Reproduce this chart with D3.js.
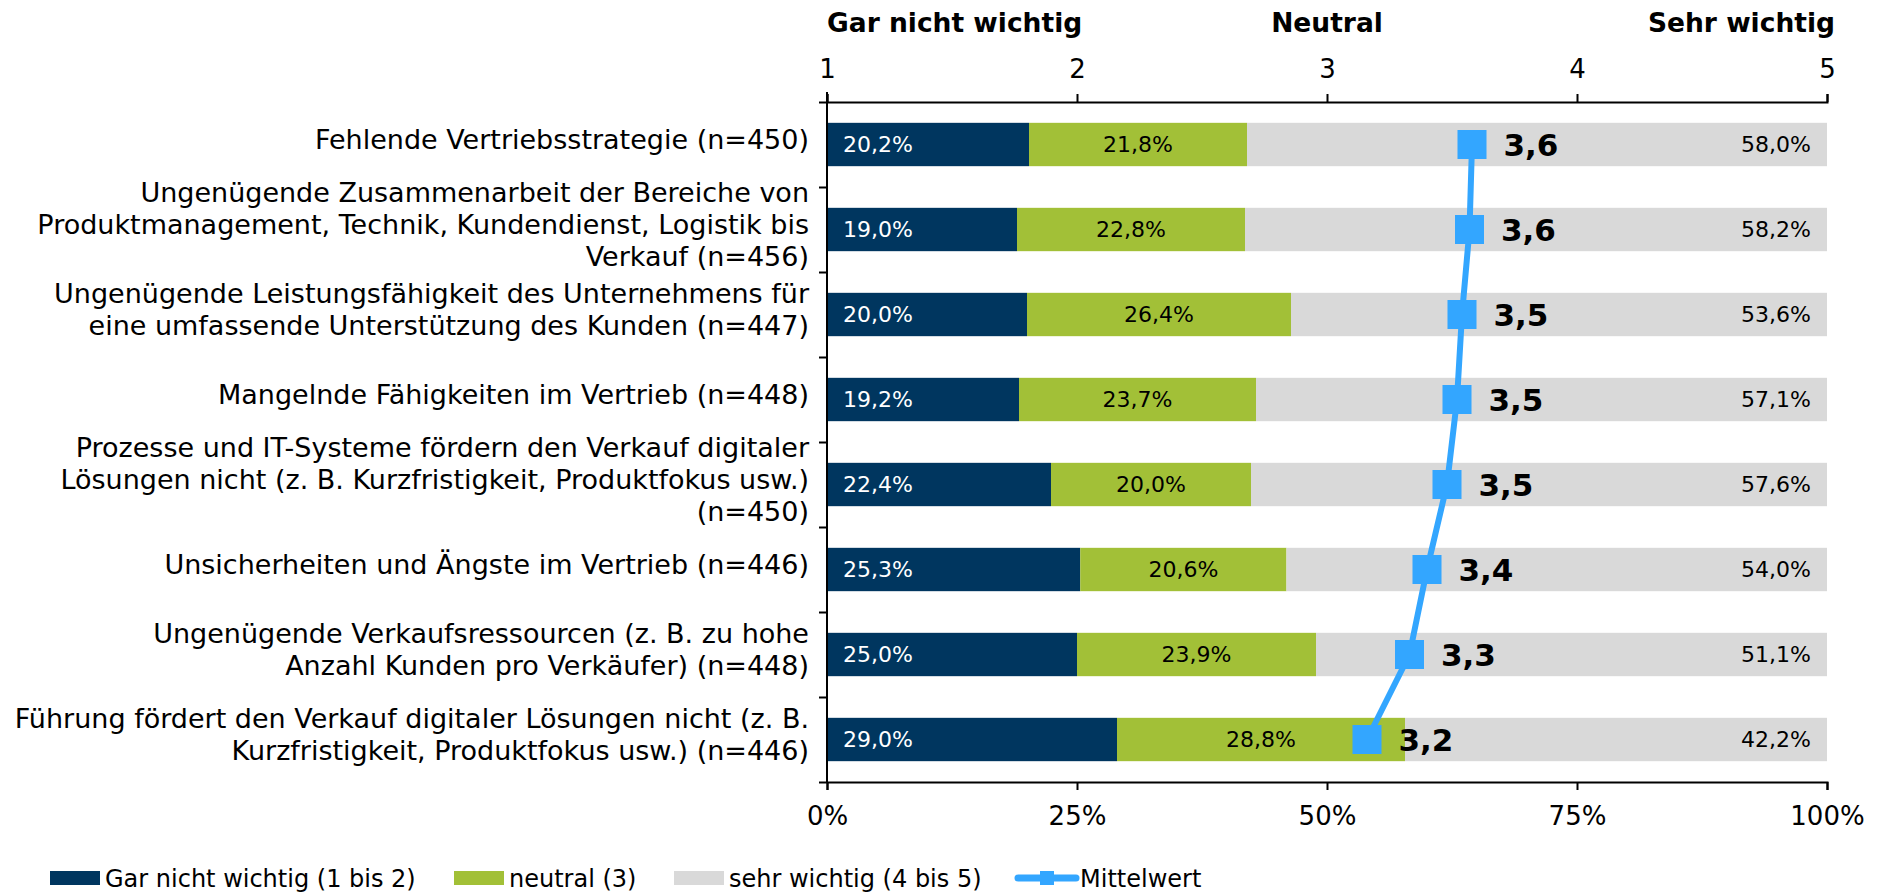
<!DOCTYPE html>
<html>
<head>
<meta charset="utf-8">
<script src="https://cdn.jsdelivr.net/npm/d3@7"></script>
<style>
  body { margin: 0; background: #fff; }
  text { font-family: "DejaVu Sans", Verdana, sans-serif; }
</style>
</head>
<body>
<script>
// categories, "|" marks a line break in the label
var categories = [
  "Fehlende Vertriebsstrategie (n=450)",
  "Ungenügende Zusammenarbeit der Bereiche von|Produktmanagement, Technik, Kundendienst, Logistik bis|Verkauf (n=456)",
  "Ungenügende Leistungsfähigkeit des Unternehmens für|eine umfassende Unterstützung des Kunden (n=447)",
  "Mangelnde Fähigkeiten im Vertrieb (n=448)",
  "Prozesse und IT-Systeme fördern den Verkauf digitaler|Lösungen nicht (z. B. Kurzfristigkeit, Produktfokus usw.)|(n=450)",
  "Unsicherheiten und Ängste im Vertrieb (n=446)",
  "Ungenügende Verkaufsressourcen (z. B. zu hohe|Anzahl Kunden pro Verkäufer) (n=448)",
  "Führung fördert den Verkauf digitaler Lösungen nicht (z. B.|Kurzfristigkeit, Produktfokus usw.) (n=446)"
];
var garNicht = [20.2, 19.0, 20.0, 19.2, 22.4, 25.3, 25.0, 29.0];
var neutral  = [21.8, 22.8, 26.4, 23.7, 20.0, 20.6, 23.9, 28.8];
var sehr     = [58.0, 58.2, 53.6, 57.1, 57.6, 54.0, 51.1, 42.2];
var mittelwert = [3.58, 3.57, 3.54, 3.52, 3.48, 3.40, 3.33, 3.16];

var seriesNames = ["Gar nicht wichtig (1 bis 2)", "neutral (3)", "sehr wichtig (4 bis 5)"];
var meanName = "Mittelwert";
var scaleTicks = [1, 2, 3, 4, 5];
var scaleHeads = ["Gar nicht wichtig", "Neutral", "Sehr wichtig"];
var pctTicks = [0, 0.25, 0.5, 0.75, 1];

var colors = ["#00365f", "#a2c037", "#d9d9d9"];
var lineColor = "#33a6ff";

var w = 1887, h = 893;
var pLeft = 827, pRight = 1827, pTop = 102, pBottom = 782;

var de = d3.formatLocale({decimal: ",", thousands: ".", grouping: [3], currency: ["", "€"]});
var f1 = de.format(".1f");

var svg = d3.select("body").append("svg")
    .attr("width", w)
    .attr("height", h);

var rows = categories.map(function(c, i) {
  return {cat: c, g: garNicht[i], n: neutral[i], s: sehr[i]};
});
var keys = ["g", "n", "s"];
var stacked = d3.stack().keys(keys).offset(d3.stackOffsetExpand)(rows);

var xScale = d3.scaleLinear().domain([0, 1]).range([pLeft, pRight]);
var meanScale = d3.scaleLinear().domain([1, 5]).range([pLeft, pRight]);
var yScale = d3.scaleBand()
    .domain(d3.range(categories.length))
    .range([pTop, pBottom])
    .paddingInner(0.49)
    .paddingOuter(0.245);
var yLines = d3.scaleLinear().domain([0, categories.length]).range([pTop, pBottom]);

function cy(i) { return yScale(i) + yScale.bandwidth() / 2; }

// bars
var layers = svg.selectAll("g.layer")
   .data(stacked)
   .enter()
   .append("g")
   .attr("class", "layer")
   .attr("fill", function(d, i) { return colors[i]; });

layers.selectAll("rect")
   .data(function(d) { return d; })
   .enter()
   .append("rect")
   .attr("x", function(d) { return xScale(d[0]); })
   .attr("y", function(d, i) { return yScale(i); })
   .attr("width", function(d) { return xScale(d[1]) - xScale(d[0]); })
   .attr("height", yScale.bandwidth());

// value labels inside bars
layers.selectAll("text")
   .data(function(d) {
     var k = d.key;
     return d.map(function(p) { return {p: p, k: k}; });
   })
   .enter()
   .append("text")
   .text(function(d) { return f1(d.p.data[d.k]) + "%"; })
   .attr("x", function(d) {
     if (d.k === "g") return xScale(d.p[0]) + 16;
     if (d.k === "n") return (xScale(d.p[0]) + xScale(d.p[1])) / 2;
     return xScale(d.p[1]) - 16;
   })
   .attr("y", function(d, i) { return cy(i); })
   .attr("dy", "0.36em")
   .attr("text-anchor", function(d) {
     return d.k === "g" ? "start" : (d.k === "n" ? "middle" : "end");
   })
   .attr("font-size", "22px")
   .attr("fill", function(d) { return d.k === "g" ? "#fff" : "#000"; });

// axes
var topAxis = svg.append("g")
   .attr("transform", "translate(0," + pTop + ")")
   .call(d3.axisTop(meanScale).tickValues(scaleTicks).tickSize(8).tickPadding(16).tickFormat(d3.format("d")));
var bottomAxis = svg.append("g")
   .attr("transform", "translate(0," + pBottom + ")")
   .call(d3.axisBottom(xScale).tickValues(pctTicks).tickSize(8).tickPadding(17).tickFormat(d3.format(".0%")));
var leftAxis = svg.append("g")
   .attr("transform", "translate(" + pLeft + ",0)")
   .call(d3.axisLeft(yLines).ticks(categories.length).tickSize(8).tickFormat(""));

[topAxis, bottomAxis, leftAxis].forEach(function(a) {
  a.selectAll("path, line").attr("stroke", "#000").attr("stroke-width", 2);
  a.selectAll("text")
   .attr("font-family", "DejaVu Sans, Verdana, sans-serif")
   .attr("font-size", "26px")
   .attr("fill", "#000");
});
leftAxis.select(".domain").attr("d", "M0," + (pTop - 10) + "V" + pBottom);

// headings over the scale
svg.selectAll("text.head")
   .data(scaleHeads)
   .enter()
   .append("text")
   .attr("class", "head")
   .text(function(d) { return d; })
   .attr("x", function(d, i) { return meanScale(scaleTicks[i * 2]) + (i === 2 ? 8 : 0); })
   .attr("y", 22)
   .attr("dy", "0.36em")
   .attr("text-anchor", function(d, i) { return ["start", "middle", "end"][i]; })
   .attr("font-size", "26.5px")
   .attr("font-weight", "bold");

// category labels
var lineH = 32;
svg.selectAll("text.cat")
   .data(categories)
   .enter()
   .append("text")
   .attr("class", "cat")
   .attr("text-anchor", "end")
   .attr("font-size", "27px")
   .attr("fill", "#000")
   .each(function(d, i) {
     var lines = d.split("|");
     var y0 = cy(i) - 5 - (lines.length - 1) * lineH / 2;
     d3.select(this).selectAll("tspan")
       .data(lines)
       .enter()
       .append("tspan")
       .attr("x", pLeft - 18)
       .attr("y", function(l, j) { return y0 + j * lineH; })
       .attr("dy", "0.36em")
       .text(function(l) { return l; });
   });

// mean line
var line = d3.line()
   .x(function(d) { return meanScale(d); })
   .y(function(d, i) { return cy(i); });

svg.append("path")
   .datum(mittelwert)
   .attr("d", line)
   .attr("fill", "none")
   .attr("stroke", lineColor)
   .attr("stroke-width", 6);

var ms = 29;
svg.selectAll("rect.mark")
   .data(mittelwert)
   .enter()
   .append("rect")
   .attr("class", "mark")
   .attr("x", function(d) { return meanScale(d) - ms / 2; })
   .attr("y", function(d, i) { return cy(i) - ms / 2; })
   .attr("width", ms)
   .attr("height", ms)
   .attr("fill", lineColor);

svg.selectAll("text.mean")
   .data(mittelwert)
   .enter()
   .append("text")
   .attr("class", "mean")
   .text(function(d) { return f1(d); })
   .attr("x", function(d) { return meanScale(d) + ms / 2 + 17; })
   .attr("y", function(d, i) { return cy(i); })
   .attr("dy", "0.36em")
   .attr("font-size", "31px")
   .attr("font-weight", "bold")
   .attr("fill", "#000");

// legend
var legY = 878;
var legX = [50, 454, 674];
var leg = svg.selectAll("g.leg")
   .data(seriesNames)
   .enter()
   .append("g")
   .attr("class", "leg")
   .attr("transform", function(d, i) { return "translate(" + legX[i] + "," + legY + ")"; });
leg.append("rect")
   .attr("x", 0).attr("y", -7)
   .attr("width", 50).attr("height", 14)
   .attr("fill", function(d, i) { return colors[i]; });
leg.append("text")
   .attr("x", 55).attr("dy", "0.36em")
   .attr("font-size", "24px")
   .text(function(d) { return d; });

var legM = svg.append("g").attr("transform", "translate(1018," + legY + ")");
legM.append("line")
   .attr("x1", 0).attr("x2", 58)
   .attr("stroke", lineColor).attr("stroke-width", 7)
   .attr("stroke-linecap", "round");
legM.append("rect")
   .attr("x", 22).attr("y", -7).attr("width", 14).attr("height", 14)
   .attr("fill", lineColor);
legM.append("text")
   .attr("x", 62).attr("dy", "0.36em")
   .attr("font-size", "24px")
   .text(meanName);
</script>
</body>
</html>
